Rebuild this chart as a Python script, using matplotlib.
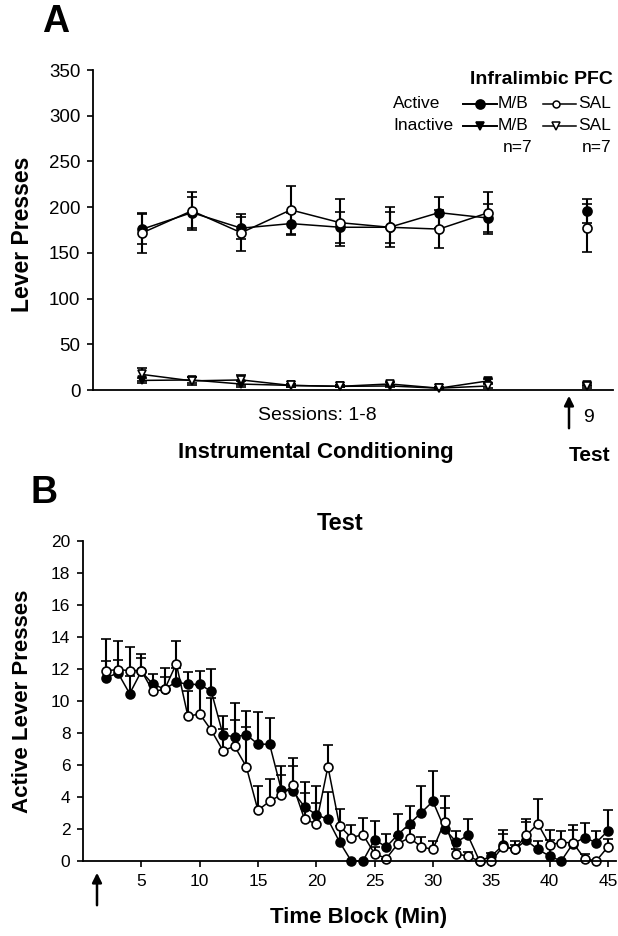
import numpy as np
import matplotlib.pyplot as plt
from matplotlib.lines import Line2D

plt.rcParams['font.family'] = ['Liberation Sans', 'DejaVu Sans']

# ---- Panel A: instrumental conditioning (sessions 1-8) + test (plotted at 10)
sessions = [1, 2, 3, 4, 5, 6, 7, 8]
test_pos = 10
active_mb = [176, 194, 177, 182, 178, 178, 194, 188]
active_mb_err = [16, 17, 12, 12, 17, 17, 17, 15]
active_sal = [172, 196, 172, 197, 183, 178, 176, 194]
active_sal_err = [22, 21, 20, 26, 26, 22, 21, 23]
inactive_mb = [10.5, 11, 6.5, 5, 4, 4.4, 2, 10]
inactive_mb_err = [3, 3, 3, 1.5, 1, 1.5, 1, 2]
inactive_sal = [17, 10, 11, 5, 4, 6.6, 2, 4.4]
inactive_sal_err = [7, 4, 5, 2, 1, 2, 1, 2]
test_active_mb, test_active_mb_err = 196, 13
test_active_sal, test_active_sal_err = 177, 26
test_inactive_mb, test_inactive_mb_err = 6, 1.5
test_inactive_sal, test_inactive_sal_err = 4, 2

# ---- Panel B: test session, active lever presses per 1-min block
blocks = list(range(2, 46))
test_mb = [11.46, 11.75, 10.46, 11.85, 11.04, 10.75, 11.19, 11.04, 11.04, 10.6,
           7.9, 7.75, 7.9, 7.3, 7.3, 4.46, 4.35, 3.38, 2.9, 2.6,
           1.19, 0, 0, 1.33, 0.88, 1.65, 2.33, 3.02, 3.73, 2.02,
           1.19, 1.6, 0, 0.29, 0.98, 0.73, 1.29, 0.73, 0.31, 0,
           1.08, 1.46, 1.15, 1.88]
test_mb_err = [1.05, 0.8, 1.1, 0.85, 0.65, 0.75, 0.9, 0.8, 0.85, 1.4,
               1.14, 2.15, 1.5, 2.0, 1.66, 1.48, 1.59, 1.56, 1.77, 1.7,
               1.0, 0, 0, 1.2, 0.83, 1.31, 1.11, 1.65, 1.87, 1.31,
               0.66, 1.0, 0, 0.2, 0.98, 0.52, 1.15, 0.5, 1.0, 0,
               0.88, 0.94, 0.7, 1.33]
test_sal = [11.9, 11.96, 11.9, 11.9, 10.6, 10.73, 12.33, 9.04, 9.2, 8.17,
            6.9, 7.17, 5.9, 3.17, 3.73, 4.15, 4.73, 2.6, 2.33, 5.9,
            2.19, 1.46, 1.65, 0.46, 0.15, 1.08, 1.46, 0.88, 0.73, 2.44,
            0.46, 0.29, 0, 0, 0.88, 0.73, 1.6, 2.33, 1.02, 1.15,
            1.15, 0.15, 0, 0.88]
test_sal_err = [2.0, 1.8, 1.5, 1.06, 0.5, 1.33, 1.42, 1.6, 1.8, 2.03,
                1.35, 1.63, 2.5, 1.5, 1.4, 1.2, 1.71, 1.65, 1.3, 1.33,
                1.08, 0.8, 1.05, 0.4, 0, 0.5, 0.6, 0.6, 0.5, 1.62,
                0.3, 0.3, 0, 0, 0.8, 0.3, 1.0, 1.52, 0.94, 0.7,
                1.08, 0.3, 0, 0.5]

W, H = 618, 936
fig = plt.figure(figsize=(W / 100, H / 100), dpi=100)


def fx(px):
    return px / W


def fy(py):
    return 1 - py / H


def series(ax, x, y, err, marker, face, ms, upper_only=False):
    if upper_only:
        yerr = [np.zeros(len(err)), err]
    else:
        yerr = err
    cont = ax.errorbar(x, y, yerr=yerr, fmt='-', marker=marker, color='k', mfc=face,
                       mec='k', ms=ms, mew=1.2, lw=1.1, elinewidth=1.5,
                       capsize=3.5, capthick=1.5, clip_on=False)
    if upper_only:
        for cl in cont[1]:
            if np.allclose(cl.get_ydata(), y):
                cl.set_visible(False)
    return cont


def arrow(px, tip, tail):
    fig.add_artist(plt.Annotation('', xy=(fx(px), fy(tip)), xytext=(fx(px), fy(tail)),
                                  xycoords='figure fraction', textcoords='figure fraction',
                                  arrowprops=dict(arrowstyle='-|>', color='k', lw=1.8,
                                                  mutation_scale=14)))


# ---------------- Panel A ----------------
axA = fig.add_axes([fx(93), fy(390), fx(613) - fx(93), 320 / H])
series(axA, sessions, inactive_mb, inactive_mb_err, 'v', 'k', 5.5)
series(axA, sessions, inactive_sal, inactive_sal_err, 'v', 'w', 5.5)
series(axA, sessions, active_mb, active_mb_err, 'o', 'k', 6.5)
series(axA, sessions, active_sal, active_sal_err, 'o', 'w', 6.5)
series(axA, [test_pos], [test_inactive_mb], [test_inactive_mb_err], 'v', 'k', 5.5)
series(axA, [test_pos], [test_inactive_sal], [test_inactive_sal_err], 'v', 'w', 5.5)
series(axA, [test_pos], [test_active_mb], [test_active_mb_err], 'o', 'k', 6.5)
series(axA, [test_pos], [test_active_sal], [test_active_sal_err], 'o', 'w', 6.5)

axA.set_xlim(0, 10.52)
axA.set_ylim(0, 350)
axA.set_yticks(range(0, 351, 50))
axA.set_xticks([])
axA.tick_params(axis='y', direction='out', length=4, width=1.2, labelsize=13.5, pad=5)
for s in ['top', 'right']:
    axA.spines[s].set_visible(False)
for s in ['left', 'bottom']:
    axA.spines[s].set_linewidth(1.3)

fig.text(fx(56), fy(22), 'A', fontsize=27, fontweight='bold', ha='center', va='center')
fig.text(fx(23), fy(234), 'Lever Presses', fontsize=16.5, fontweight='bold',
         rotation=90, ha='center', va='center')
fig.text(fx(317), fy(416), 'Sessions: 1-8', fontsize=14, ha='center', va='center')
fig.text(fx(316), fy(452), 'Instrumental Conditioning', fontsize=16, fontweight='bold',
         ha='center', va='center')
fig.text(fx(588), fy(417), '9', fontsize=14, ha='center', va='center')
fig.text(fx(590), fy(455), 'Test', fontsize=15, fontweight='bold', ha='center', va='center')
arrow(569, 393, 431)

# legend block
fig.text(fx(613), fy(80), 'Infralimbic PFC', fontsize=14, fontweight='bold',
         ha='right', va='center')
rows = [('Active', 104, 'o', 6.5, 5.0), ('Inactive', 126, 'v', 5.5, 5.5)]
for label, py, mk, ms_mb, ms_sal in rows:
    fig.text(fx(393), fy(py), label, fontsize=12.5, ha='left', va='center')
    fig.add_artist(Line2D([fx(463), fx(497)], [fy(py), fy(py)], color='k', lw=1.4))
    fig.add_artist(Line2D([fx(480)], [fy(py)], marker=mk, color='k', mfc='k', ms=ms_mb, mew=1.2))
    fig.text(fx(498), fy(py), 'M/B', fontsize=12.5, ha='left', va='center')
    fig.add_artist(Line2D([fx(543), fx(576)], [fy(py), fy(py)], color='k', lw=1.1))
    fig.add_artist(Line2D([fx(556)], [fy(py)], marker=mk, color='k', mfc='w', ms=ms_sal, mew=1.1))
    fig.text(fx(578), fy(py), 'SAL', fontsize=12.5, ha='left', va='center')
fig.text(fx(503), fy(148), 'n=7', fontsize=12.5, ha='left', va='center')
fig.text(fx(582), fy(148), 'n=7', fontsize=12.5, ha='left', va='center')

# ---------------- Panel B ----------------
axB = fig.add_axes([fx(83), fy(861), fx(616) - fx(83), 320 / H])
series(axB, blocks, test_mb, test_mb_err, 'o', 'k', 6.4, upper_only=True)
series(axB, blocks, test_sal, test_sal_err, 'o', 'w', 6.4, upper_only=True)
axB.set_xlim(0, 45.7)
axB.set_ylim(0, 20)
axB.set_yticks(range(0, 21, 2))
axB.set_xticks(range(5, 46, 5))
axB.tick_params(direction='out', length=4, width=1.2, labelsize=12.5, pad=5)
for s in ['top', 'right']:
    axB.spines[s].set_visible(False)
for s in ['left', 'bottom']:
    axB.spines[s].set_linewidth(1.3)

fig.text(fx(44), fy(493), 'B', fontsize=27, fontweight='bold', ha='center', va='center')
fig.text(fx(340), fy(524), 'Test', fontsize=17, fontweight='bold', ha='center', va='center')
fig.text(fx(23), fy(701), 'Active Lever Presses', fontsize=16, fontweight='bold',
         rotation=90, ha='center', va='center')
fig.text(fx(359), fy(917), 'Time Block (Min)', fontsize=16, fontweight='bold',
         ha='center', va='center')
arrow(97, 870, 908)

fig.savefig('out.png', dpi=100)
